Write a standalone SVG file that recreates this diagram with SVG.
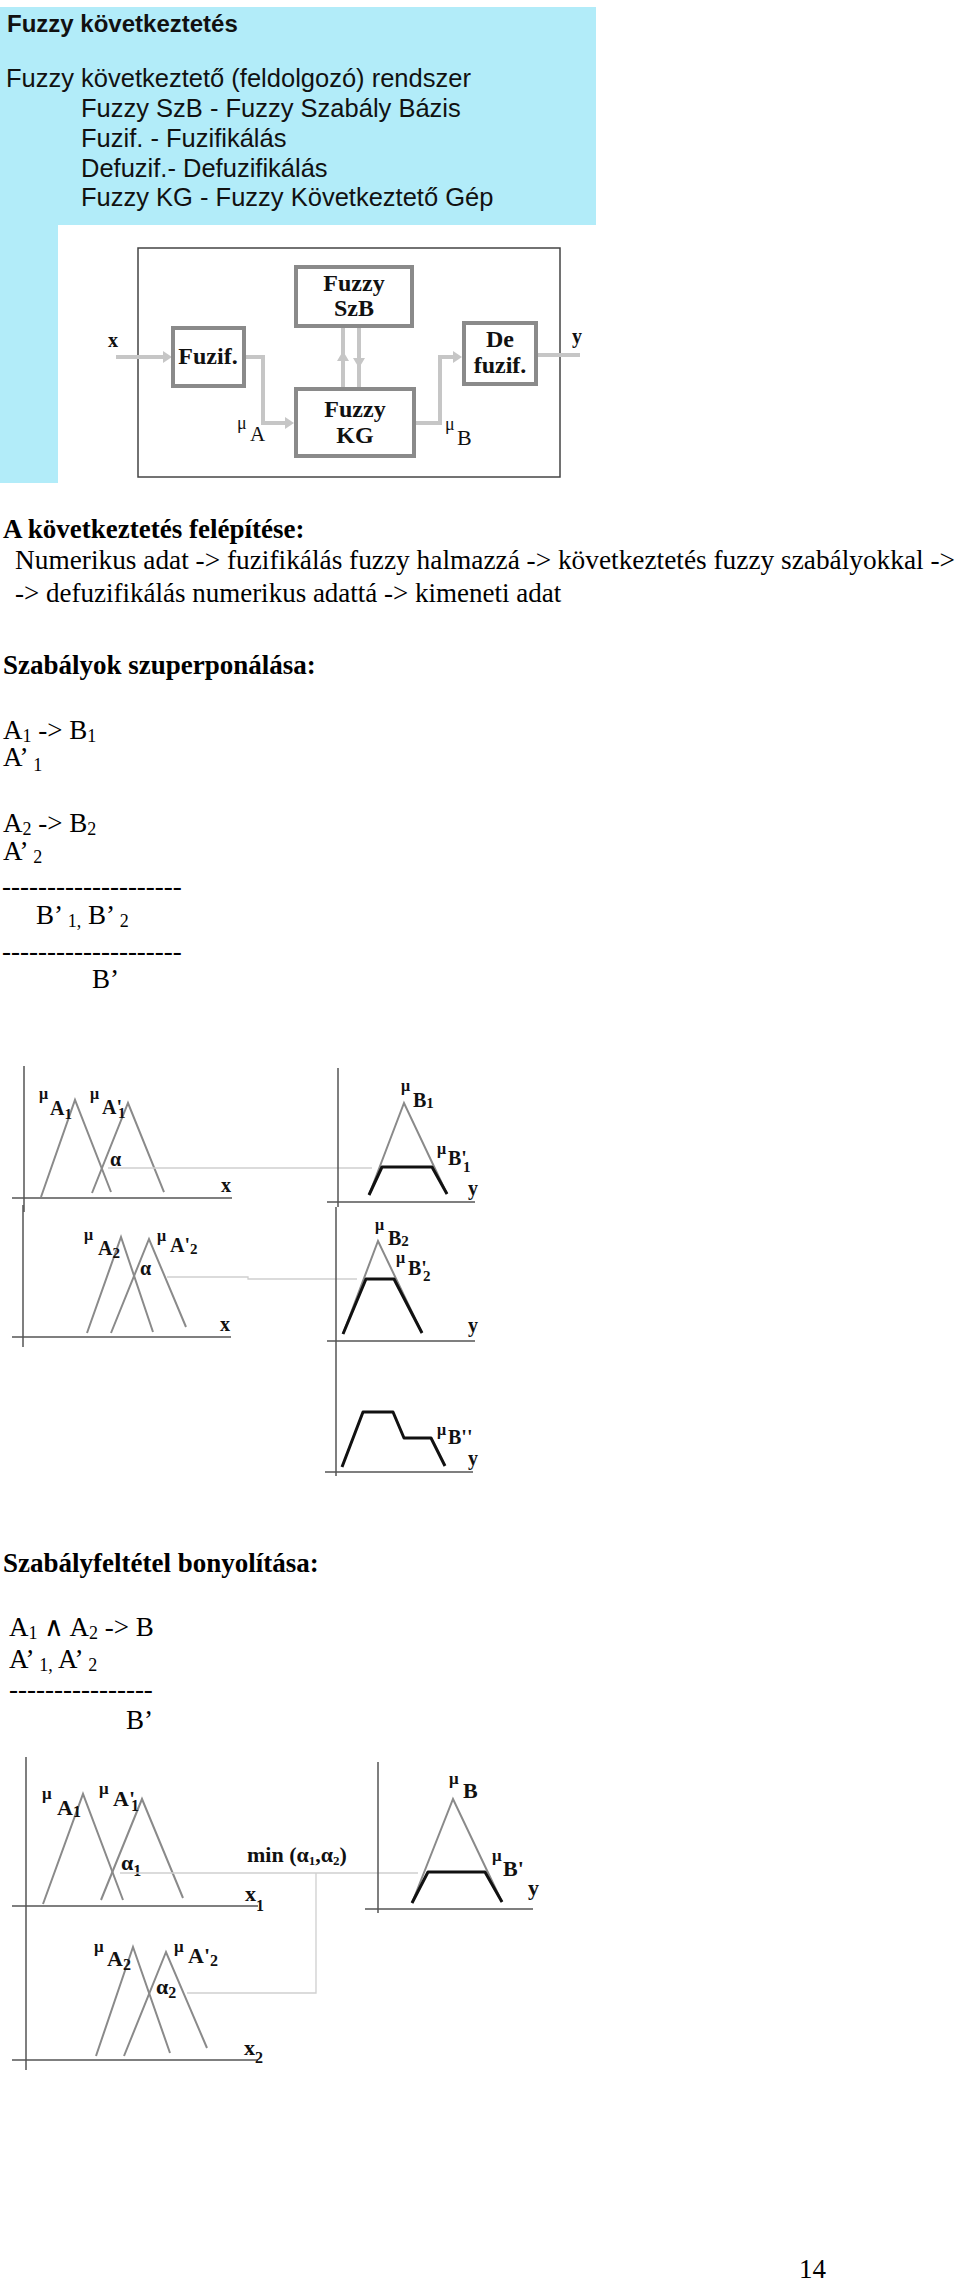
<svg xmlns="http://www.w3.org/2000/svg" width="960" height="2282" viewBox="0 0 960 2282">
<style>
.sans{font-family:"Liberation Sans",Arial,sans-serif;fill:#111}
.serif{font-family:"Liberation Serif","Times New Roman",serif;fill:#111}
.h{font-family:"Liberation Serif","Times New Roman",serif;font-weight:bold;font-size:27px;fill:#000}
.b{font-family:"Liberation Serif","Times New Roman",serif;font-size:27px;fill:#000}
.box{fill:#fff;stroke:#8a8a8a;stroke-width:4}
.bt{font-family:"Liberation Serif","Times New Roman",serif;font-weight:bold;font-size:24px;fill:#111;text-anchor:middle}
.ar{fill:none;stroke:#c6c6c6;stroke-width:4}
.ah{fill:#c6c6c6}
.ax{stroke:#555;stroke-width:1.5;fill:none}
.tri{stroke:#8a8a8a;stroke-width:2;fill:none}
.trap{stroke:#111;stroke-width:3;fill:none;stroke-linejoin:round}
.gl{stroke:#cfcfcf;stroke-width:1.3;fill:none}
.mu{font-family:"Liberation Serif","Times New Roman",serif;font-weight:bold;font-size:16px;fill:#111}
.lb{font-family:"Liberation Serif","Times New Roman",serif;font-weight:bold;font-size:20px;fill:#111}
.sb{font-size:15px}
.mu2{font-family:"Liberation Serif","Times New Roman",serif;font-weight:bold;font-size:17px;fill:#111}
.lb2{font-family:"Liberation Serif","Times New Roman",serif;font-weight:bold;font-size:22px;fill:#111}
.sb2{font-size:16px}
</style>
<rect width="960" height="2282" fill="#fff"/>

<g id="header">
<path d="M0,7 H596 V225 H58 V483 H0 Z" fill="#b2ecf9"/>
<text class="sans" x="7" y="32" font-size="24" font-weight="bold">Fuzzy következtetés</text>
<text class="sans" x="6" y="87" font-size="25.5">Fuzzy következtető (feldolgozó) rendszer</text>
<text class="sans" x="81" y="117" font-size="25.5">Fuzzy SzB - Fuzzy Szabály Bázis</text>
<text class="sans" x="81" y="147" font-size="25.5">Fuzif. - Fuzifikálás</text>
<text class="sans" x="81" y="177" font-size="25.5">Defuzif.- Defuzifikálás</text>
<text class="sans" x="81" y="206" font-size="25.5">Fuzzy KG - Fuzzy Következtető Gép</text>
</g>

<g id="block-frame">
<rect x="138" y="248" width="422" height="229" fill="#fff" stroke="#444" stroke-width="1.5"/>
</g>

<g id="connectors">
<path class="ar" d="M116,357 H166"/>
<polygon class="ah" points="172,357 163,351 163,363"/>
<path class="ar" d="M246,357 H263 V423 H288"/>
<polygon class="ah" points="294,423 285,417 285,429"/>
<path class="ar" d="M343,388 V327"/>
<polygon class="ah" points="343,351 337,361 349,361"/>
<path class="ar" d="M359,327 V388"/>
<polygon class="ah" points="359,368 353,358 365,358"/>
<path class="ar" d="M416,423 H440 V357 H456"/>
<polygon class="ah" points="462,357 453,351 453,363"/>
<path class="ar" d="M538,355 H580"/>
</g>

<g id="node-szb">
<rect class="box" x="296" y="267" width="116" height="59"/>
<text class="bt" x="354" y="291">Fuzzy</text>
<text class="bt" x="354" y="316">SzB</text>
</g>
<g id="node-fuzif">
<rect class="box" x="173" y="328" width="71" height="58"/>
<text class="bt" x="208" y="364">Fuzif.</text>
</g>
<g id="node-kg">
<rect class="box" x="296" y="389" width="118" height="67"/>
<text class="bt" x="355" y="417">Fuzzy</text>
<text class="bt" x="355" y="443">KG</text>
</g>
<g id="node-defuzif">
<rect class="box" x="464" y="323" width="72" height="61"/>
<text class="bt" x="500" y="347">De</text>
<text class="bt" x="500" y="373">fuzif.</text>
</g>
<g id="block-labels">
<text class="serif" x="108" y="347" font-size="20" font-weight="bold">x</text>
<text class="serif" x="572" y="343" font-size="20" font-weight="bold">y</text>
<text class="serif" x="237" y="429" font-size="18">μ</text>
<text class="serif" x="250" y="441" font-size="21">A</text>
<text class="serif" x="445" y="430" font-size="18">μ</text>
<text class="serif" x="457" y="445" font-size="22">B</text>
</g>

<g id="text-felepites">
<text class="h" x="3" y="538">A következtetés felépítése:</text>
<text class="b" x="15" y="569" textLength="940" lengthAdjust="spacingAndGlyphs">Numerikus adat -&gt; fuzifikálás fuzzy halmazzá -&gt; következtetés fuzzy szabályokkal -&gt;</text>
<text class="b" x="15" y="602">-&gt; defuzifikálás numerikus adattá -&gt; kimeneti adat</text>
</g>

<g id="text-szuperponalas">
<text class="h" x="3" y="674">Szabályok szuperponálása:</text>
<text class="b" x="3" y="739">A<tspan font-size="18" dy="3">1</tspan><tspan dy="-3"> -&gt; B</tspan><tspan font-size="18" dy="3">1</tspan></text>
<text class="b" x="3" y="766">A’ <tspan font-size="18" dy="5">1</tspan></text>
<text class="b" x="3" y="832">A<tspan font-size="18" dy="3">2</tspan><tspan dy="-3"> -&gt; B</tspan><tspan font-size="18" dy="3">2</tspan></text>
<text class="b" x="3" y="860">A’ <tspan font-size="18" dy="3">2</tspan></text>
<text class="b" x="2" y="895" font-size="18">--------------------</text>
<text class="b" x="36" y="924">B’ <tspan font-size="18" dy="3">1,</tspan><tspan dy="-3"> B’ </tspan><tspan font-size="18" dy="3">2</tspan></text>
<text class="b" x="2" y="960" font-size="18">--------------------</text>
<text class="b" x="92" y="988">B’</text>
</g>

<g id="fig1">
<line class="ax" x1="24" y1="1066" x2="24" y2="1212"/>
<line class="ax" x1="12" y1="1198" x2="232" y2="1198"/>
<polyline class="tri" points="41,1197 75,1100 111,1192"/>
<polyline class="tri" points="92,1193 128,1103 164,1192"/>
<text class="mu" x="39" y="1099">μ</text>
<text class="lb" x="50" y="1115">A<tspan class="sb" dy="4">1</tspan></text>
<text class="mu" x="90" y="1099">μ</text>
<text class="lb" x="102" y="1114">A'<tspan class="sb" dx="-4" dy="4">1</tspan></text>
<text class="lb" x="110" y="1166" font-size="18">α</text>
<text class="lb" x="221" y="1192">x</text>
<line class="gl" x1="108" y1="1168" x2="372" y2="1168"/>

<line class="ax" x1="338" y1="1068" x2="338" y2="1207"/>
<line class="ax" x1="327" y1="1202" x2="475" y2="1202"/>
<polyline class="tri" points="369,1195 404,1103 447,1194"/>
<polyline class="trap" points="369,1195 382,1167 432,1167 447,1194"/>
<text class="mu" x="401" y="1091">μ</text>
<text class="lb" x="413" y="1107">B<tspan class="sb" dy="1">1</tspan></text>
<text class="mu" x="437" y="1154">μ</text>
<text class="lb" x="448" y="1165">B'<tspan class="sb" dx="-4" dy="7">1</tspan></text>
<text class="lb" x="468" y="1195">y</text>

<line class="ax" x1="23" y1="1205" x2="23" y2="1347"/>
<line class="ax" x1="12" y1="1337" x2="231" y2="1337"/>
<polyline class="tri" points="87,1333 121,1237 153,1332"/>
<polyline class="tri" points="111,1333 149,1239 186,1327"/>
<text class="mu" x="84" y="1240">μ</text>
<text class="lb" x="98" y="1255">A<tspan class="sb" dy="3">2</tspan></text>
<text class="mu" x="157" y="1241">μ</text>
<text class="lb" x="170" y="1252">A'<tspan class="sb" dy="2">2</tspan></text>
<text class="lb" x="140" y="1275" font-size="18">α</text>
<text class="lb" x="220" y="1331">x</text>
<polyline class="gl" points="167,1277 248,1277 248,1279 357,1279"/>

<line class="ax" x1="336" y1="1207" x2="336" y2="1476"/>
<line class="ax" x1="327" y1="1341" x2="475" y2="1341"/>
<polyline class="tri" points="343,1334 378,1241 422,1333"/>
<polyline class="trap" points="343,1334 366,1279 394,1279 422,1333"/>
<text class="mu" x="375" y="1230">μ</text>
<text class="lb" x="388" y="1245">B<tspan class="sb" dy="1">2</tspan></text>
<text class="mu" x="396" y="1263">μ</text>
<text class="lb" x="408" y="1275">B'<tspan class="sb" dx="-4" dy="6">2</tspan></text>
<text class="lb" x="468" y="1332">y</text>

<line class="ax" x1="325" y1="1472" x2="473" y2="1472"/>
<polyline class="trap" points="342,1467 363,1412 393,1412 404,1438 431,1438 445,1466"/>
<text class="mu" x="437" y="1435">μ</text>
<text class="lb" x="448" y="1444">B''</text>
<text class="lb" x="468" y="1465">y</text>
</g>

<g id="text-bonyolitas">
<text class="h" x="3" y="1572">Szabályfeltétel bonyolítása:</text>
<text class="b" x="9" y="1636">A<tspan font-size="18" dy="3">1</tspan><tspan dy="-3"> ∧ A</tspan><tspan font-size="18" dy="3">2</tspan><tspan dy="-3"> -&gt; B</tspan></text>
<text class="b" x="9" y="1668">A’ <tspan font-size="18" dy="3">1,</tspan><tspan dy="-3"> A’ </tspan><tspan font-size="18" dy="3">2</tspan></text>
<text class="b" x="9" y="1698">----------------</text>
<text class="b" x="126" y="1729">B’</text>
</g>

<g id="fig2">
<line class="ax" x1="26" y1="1757" x2="26" y2="2070"/>
<line class="ax" x1="12" y1="1906" x2="258" y2="1906"/>
<line class="ax" x1="12" y1="2060" x2="258" y2="2060"/>
<polyline class="tri" points="43,1904 83,1794 123,1900"/>
<polyline class="tri" points="101,1900 142,1799 183,1898"/>
<text class="mu2" x="42" y="1799">μ</text>
<text class="lb2" x="57" y="1815">A<tspan class="sb2" dy="2">1</tspan></text>
<text class="mu2" x="99" y="1794">μ</text>
<text class="lb2" x="113" y="1806">A'<tspan class="sb2" dx="-4" dy="5">1</tspan></text>
<text class="lb2" x="121" y="1870" font-size="19">α<tspan class="sb2" dy="6">1</tspan></text>
<text class="lb2" x="245" y="1901">x<tspan class="sb2" dy="10">1</tspan></text>
<line class="gl" x1="120" y1="1873" x2="418" y2="1873"/>
<text class="lb2" x="247" y="1862" font-size="15">min (α<tspan font-size="13" dy="3">1</tspan><tspan dy="-3">,α</tspan><tspan font-size="13" dy="3">2</tspan><tspan dy="-3">)</tspan></text>
<polyline class="gl" points="187,1993 316,1993 316,1873"/>
<polyline class="tri" points="96,2056 133,1947 170,2053"/>
<polyline class="tri" points="124,2056 166,1952 207,2048"/>
<text class="mu2" x="94" y="1952">μ</text>
<text class="lb2" x="107" y="1966">A<tspan class="sb2" dy="4">2</tspan></text>
<text class="mu2" x="174" y="1952">μ</text>
<text class="lb2" x="188" y="1963">A'<tspan class="sb2" dy="3">2</tspan></text>
<text class="lb2" x="156" y="1994" font-size="19">α<tspan class="sb2" dy="4">2</tspan></text>
<text class="lb2" x="244" y="2055">x<tspan class="sb2" dy="8">2</tspan></text>

<line class="ax" x1="378" y1="1762" x2="378" y2="1913"/>
<line class="ax" x1="365" y1="1909" x2="533" y2="1909"/>
<polyline class="tri" points="412,1903 453,1799 502,1902"/>
<polyline class="trap" points="412,1903 428,1872 485,1872 502,1902"/>
<text class="mu2" x="449" y="1784">μ</text>
<text class="lb2" x="463" y="1798">B</text>
<text class="mu2" x="492" y="1861">μ</text>
<text class="lb2" x="503" y="1876">B'</text>
<text class="lb2" x="528" y="1895">y</text>
</g>

<g id="page-number">
<text class="b" x="799" y="2278" font-size="24">14</text>
</g>
</svg>
